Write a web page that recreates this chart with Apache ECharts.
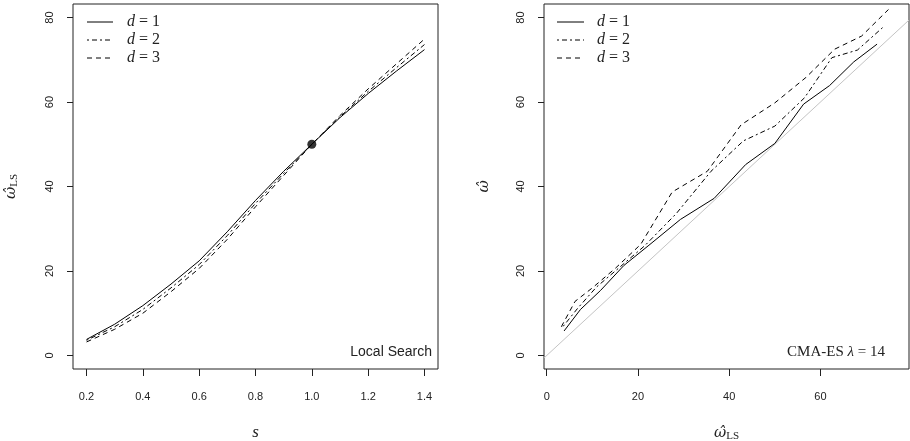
<!DOCTYPE html>
<html>
<head>
<meta charset="utf-8">
<script src="https://cdn.jsdelivr.net/npm/echarts@6/dist/echarts.min.js"></script>
<style>
  html, body { margin: 0; padding: 0; background: #fff; }
  #chart { width: 910px; height: 441px; }
</style>
</head>
<body>
<div id="chart"></div>
<script>
// step size s (left panel x)
const sValues = [0.2, 0.3, 0.4, 0.5, 0.6, 0.7, 0.8, 0.9, 1.0, 1.1, 1.2, 1.3, 1.4];
// local search estimate, one array per d
const lsD1 = [3.8, 7.4, 11.8, 16.9, 22.4, 29.3, 36.7, 43.6, 50.0, 56.3, 62.0, 67.3, 72.4];
const lsD2 = [3.6, 6.8, 10.9, 16.0, 21.5, 28.4, 36.0, 43.1, 50.0, 56.5, 62.5, 68.1, 73.6];
const lsD3 = [3.2, 6.2, 10.0, 15.1, 20.6, 27.5, 35.2, 42.6, 50.0, 56.8, 63.1, 69.0, 74.9];
// CMA-ES estimate against the local search one (right panel y)
const cmaD1 = [5.8, 10.9, 15.4, 21.3, 26.1, 32.2, 37.2, 45.2, 50.2, 59.5, 63.9, 69.5, 73.7];
const cmaD2 = [6.9, 11.2, 16.2, 20.9, 26.0, 33.6, 43.6, 50.8, 54.3, 61.0, 70.5, 72.3, 77.6];
const cmaD3 = [6.8, 12.8, 16.0, 20.7, 26.3, 38.7, 43.6, 54.6, 59.8, 65.8, 72.5, 75.6, 81.9];
// reference point
const anchorPoint = [1.0, 50];
// tick labels
const leftXTicks = [0.2, 0.4, 0.6, 0.8, 1.0, 1.2, 1.4];
const rightXTicks = [0, 20, 40, 60];
const yTicks = [0, 20, 40, 60, 80];

const serif = "'Liberation Serif', 'DejaVu Serif', serif";
const mathFont = "'DejaVu Serif', serif";
const sans = "'Liberation Sans', Arial, sans-serif";
const ink = "#222";

const leftX = { min: 0.152, max: 1.448 };
const rightX = { min: -0.6, max: 79.4 };
const yRange = { min: -3.2, max: 83.2 };

const pairs = (xs, ys) => xs.map((x, i) => [x, ys[i]]);

const mathRich = {
  i: { fontFamily: serif, fontStyle: "italic", fontSize: 17, color: ink },
  w: { fontFamily: mathFont, fontStyle: "italic", fontSize: 15, color: ink },
  sub: { fontFamily: serif, fontSize: 11, color: ink, padding: [7, 0, 0, 0] }
};

function xAxisOf(idx, range, ticks, name, fmt) {
  return {
    type: "value",
    gridIndex: idx,
    min: range.min,
    max: range.max,
    axisLine: { show: false, onZero: false },
    splitLine: { show: false },
    axisTick: { show: true, inside: false, length: 7, customValues: ticks, lineStyle: { color: ink } },
    axisLabel: { customValues: ticks, margin: 22, fontFamily: sans, fontSize: 11, color: ink, formatter: fmt },
    name: name,
    nameLocation: "middle",
    nameGap: 55,
    nameTextStyle: { rich: mathRich }
  };
}

function yAxisOf(idx, name, gap) {
  return {
    type: "value",
    gridIndex: idx,
    min: yRange.min,
    max: yRange.max,
    axisLine: { show: false, onZero: false },
    splitLine: { show: false },
    axisTick: { show: true, inside: false, length: 6, customValues: yTicks, lineStyle: { color: ink } },
    axisLabel: { customValues: yTicks, rotate: 90, margin: 18, fontFamily: sans, fontSize: 11, color: ink },
    name: name,
    nameLocation: "middle",
    nameRotate: 90,
    nameGap: gap,
    nameTextStyle: { rich: mathRich }
  };
}

const styles = [
  { type: "solid", width: 1 },
  { type: [2, 3, 5, 3], width: 1 },
  { type: [5, 4], width: 1 }
];

function lineSeries(name, data, k, idx) {
  return {
    name: name,
    type: "line",
    xAxisIndex: idx,
    yAxisIndex: idx,
    data: data,
    showSymbol: false,
    symbol: "none",
    silent: true,
    lineStyle: Object.assign({ color: "#000" }, styles[k])
  };
}

// legend drawn as small graphics inside each panel
function legendGraphics(x0, x1, xt) {
  const ys = [22, 40, 58];
  const out = [];
  ys.forEach((y, k) => {
    out.push({
      type: "line",
      shape: { x1: x0, y1: y, x2: x1, y2: y },
      style: { stroke: "#000", lineWidth: 1, lineDash: k === 0 ? null : styles[k].type }
    });
    out.push({
      type: "text",
      x: xt,
      y: y,
      style: {
        text: "{i|d} = " + (k + 1),
        rich: { i: { fontFamily: serif, fontStyle: "italic", fontSize: 16, fill: ink } },
        fontFamily: serif,
        fontSize: 16,
        fill: ink,
        verticalAlign: "middle"
      }
    });
  });
  return out;
}

const chart = echarts.init(document.getElementById("chart"));
chart.setOption({
  animation: false,
  backgroundColor: "#fff",
  grid: [
    { left: 73, top: 4, width: 365, height: 365, show: true, borderColor: ink, borderWidth: 1, containLabel: false, outerBoundsMode: "none" },
    { left: 544, top: 4, width: 365, height: 365, show: true, borderColor: ink, borderWidth: 1, containLabel: false, outerBoundsMode: "none" }
  ],
  xAxis: [
    xAxisOf(0, leftX, leftXTicks, "{i|s}", (v) => v.toFixed(1)),
    xAxisOf(1, rightX, rightXTicks, "{w|ω̂}{sub|LS}", (v) => String(v))
  ],
  yAxis: [
    yAxisOf(0, "{w|ω̂}{sub|LS}", 53),
    yAxisOf(1, "{w|ω̂}", 52)
  ],
  series: [
    lineSeries("d = 1", pairs(sValues, lsD1), 0, 0),
    lineSeries("d = 2", pairs(sValues, lsD2), 1, 0),
    lineSeries("d = 3", pairs(sValues, lsD3), 2, 0),
    {
      type: "scatter",
      xAxisIndex: 0,
      yAxisIndex: 0,
      data: [anchorPoint],
      symbolSize: 9,
      itemStyle: { color: "#000" },
      silent: true
    },
    {
      type: "line",
      xAxisIndex: 1,
      yAxisIndex: 1,
      data: [[rightX.min, rightX.min], [rightX.max, rightX.max]],
      showSymbol: false,
      symbol: "none",
      silent: true,
      lineStyle: { color: "#c4c4c4", width: 1 }
    },
    lineSeries("d = 1", pairs(lsD1, cmaD1), 0, 1),
    lineSeries("d = 2", pairs(lsD2, cmaD2), 1, 1),
    lineSeries("d = 3", pairs(lsD3, cmaD3), 2, 1)
  ],
  graphic: [
    ...legendGraphics(87, 113, 127),
    ...legendGraphics(557, 584, 597),
    {
      type: "text",
      x: 432,
      y: 352,
      style: { text: "Local Search", fontFamily: sans, fontSize: 14, fill: ink, align: "right", verticalAlign: "middle" }
    },
    {
      type: "text",
      x: 885,
      y: 352,
      style: {
        text: "CMA-ES {i|λ} = 14",
        rich: { i: { fontFamily: serif, fontStyle: "italic", fontSize: 15, fill: ink } },
        fontFamily: serif,
        fontSize: 15,
        fill: ink,
        align: "right",
        verticalAlign: "middle"
      }
    }
  ]
});
</script>
</body>
</html>
